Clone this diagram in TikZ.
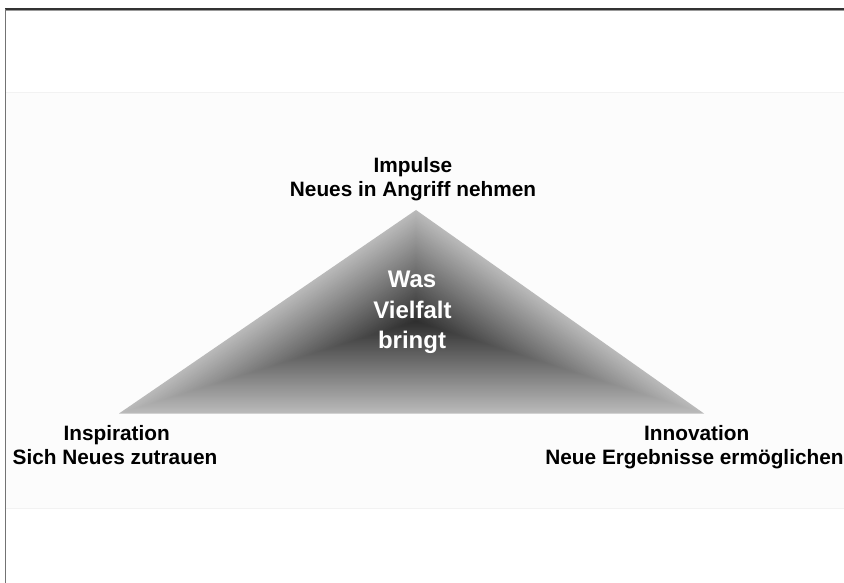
\documentclass[tikz,border=0pt]{standalone}
\usepackage{fontspec}
\setmainfont{Liberation Sans}
\usetikzlibrary{calc}
\begin{document}
\begin{tikzpicture}[x=1pt,y=-1pt,
  lbl/.style={font=\fontsize{20.8}{24}\selectfont\bfseries, anchor=base, inner sep=0pt, text=black},
  innertxt/.style={lbl, text=white, font=\fontsize{24}{28}\selectfont\bfseries},
  faintline/.style={draw=gray!10, line width=0.8pt}]
\useasboundingbox (0,0) rectangle (844,583);
\fill[white] (0,0) rectangle (844,583);
\fill[gray!2] (6,92) rectangle (844,508);
\draw[faintline] (6,92) -- (844,92);
\draw[faintline] (6,508) -- (844,508);
\draw[black!40, line width=1.2pt] (5.5,10.7) -- (844,10.7);
\draw[black!80, line width=1.5pt] (5,9) -- (844,9);
\draw[black!55, line width=1.8pt] (5.5,9) -- (5.5,583);
% triangle with path gradient
\coordinate (A) at (416,210);
\coordinate (L) at (119,413.5);
\coordinate (R) at (704,413.5);
\coordinate (C) at (416,321.5);
\foreach \i in {0,...,99}{
  \pgfmathsetmacro\t{1-\i/100}
  \pgfmathsetmacro\g{0.18+0.55*\t}
  \definecolor{tcol}{gray}{\g}
  \fill[tcol] ($(C)!\t!(A)$) -- ($(C)!\t!(L)$) -- ($(C)!\t!(R)$) -- cycle;
}
\node[lbl] (imp1) at (413,172.3) {Impulse};
\node[lbl] (imp2) at (413,196.5) {Neues in Angriff nehmen};
\node[lbl] (ins1) at (116.7,440.7) {Inspiration};
\node[lbl] (ins2) at (115,464) {Sich Neues zutrauen};
\node[lbl] (inn1) at (696.7,440.7) {Innovation};
\node[lbl] (inn2) at (694.5,464) {Neue Ergebnisse ermöglichen};
\node[innertxt] (w1) at (412,287.3) {Was};
\node[innertxt] (w2) at (412.5,318.3) {Vielfalt};
\node[innertxt] (w3) at (412,348.3) {bringt};
\end{tikzpicture}
\end{document}
